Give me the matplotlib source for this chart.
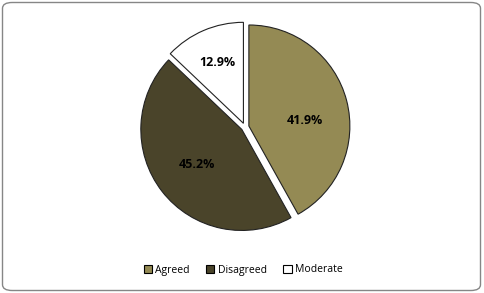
import matplotlib.pyplot as plt
from matplotlib.patches import FancyBboxPatch

labels = ["Agreed", "Disagreed", "Moderate"]
shares = [41.9, 45.2, 12.9]
colors = ["#948A54", "#4A442A", "#FFFFFF"]

fig = plt.figure(figsize=(4.85, 2.93), dpi=100)

# chart area frame with rounded corners (behind the axes)
frame = FancyBboxPatch((2.5 / 485, 2.5 / 293), 478 / 485, 288 / 293,
                       boxstyle="round,pad=0,rounding_size=0.02",
                       transform=fig.transFigure, facecolor="white",
                       edgecolor="#868686", linewidth=1.0, zorder=-5)
fig.patches.append(frame)

# axes 220 px square centred on the pie (245, 127)
ax = fig.add_axes([(245 - 110) / 485, (293 - 127 - 110) / 293, 220 / 485, 220 / 293])

wedges, texts, autotexts = ax.pie(
    shares, colors=colors, startangle=90, counterclock=False,
    explode=[0.04, 0.04, 0.04], radius=1.01,
    autopct="%.1f%%", pctdistance=0.57,
    wedgeprops=dict(edgecolor="#222222", linewidth=0.8),
    textprops=dict(fontsize=9, fontweight="bold", color="black", family="Open Sans"))
# Excel-style label placement
autotexts[0].set_position((0.60, 0.06))
autotexts[1].set_position((-0.48, -0.38))
autotexts[2].set_position((-0.28, 0.65))

# pie() resets the limits, so fix them afterwards
ax.set_xlim(-1.1, 1.1)
ax.set_ylim(-1.1, 1.1)
ax.set_aspect("equal")
ax.axis("off")

leg = fig.legend(wedges, labels, loc="center", bbox_to_anchor=(243 / 485, 1 - 270 / 293),
                 ncol=3, frameon=False, handlelength=0.8, handleheight=0.8,
                 handletextpad=0.3, columnspacing=1.6, prop=dict(family="Open Sans", size=7.5))
for h in leg.legend_handles:
    h.set_edgecolor("black")
    h.set_linewidth(0.8)

fig.savefig("out.png", dpi=100)
